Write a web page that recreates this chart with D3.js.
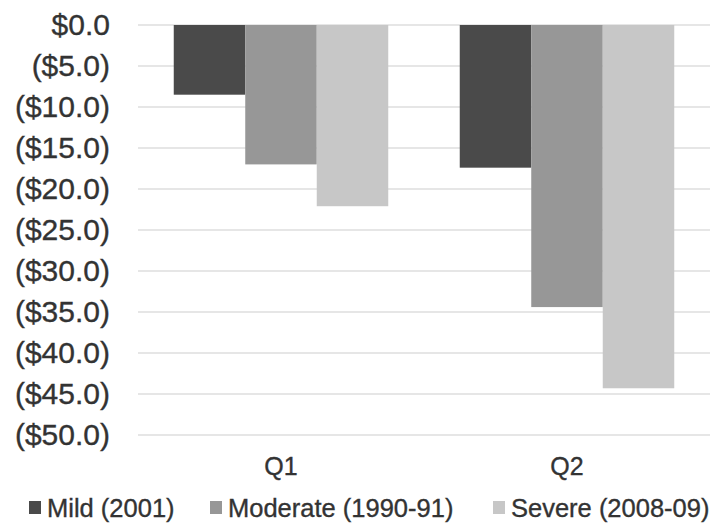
<!DOCTYPE html>
<html>
<head>
<meta charset="utf-8">
<style>
  body { margin: 0; background: #fff; }
  svg text { font-family: "Liberation Sans", Arial, sans-serif; fill: #333; stroke: #333; stroke-width: 0.35px; }
</style>
</head>
<body>
<svg width="714" height="523"></svg>
<script src="https://d3js.org/d3.v7.min.js"></script>
<script>
const categories = ["Q1", "Q2"];
const seriesNames = ["Mild (2001)", "Moderate (1990-91)", "Severe (2008-09)"];
const mild = [-8.5, -17.4];
const moderate = [-17.0, -34.4];
const severe = [-22.1, -44.3];
const yTicks = [0, -5, -10, -15, -20, -25, -30, -35, -40, -45, -50];
const colors = ["#4a4a4a", "#979797", "#c7c7c7"];

const series = [mild, moderate, severe];

const svg = d3.select("svg");
const margin = { top: 25, right: 4, bottom: 88, left: 138 };
const width = 714 - margin.left - margin.right;
const height = 523 - margin.top - margin.bottom;

const g = svg.append("g").attr("transform", `translate(${margin.left},${margin.top})`);

const x = d3.scaleBand().domain(categories).range([0, width]).paddingInner(0.25).paddingOuter(0.125);
const xs = d3.scaleBand().domain(seriesNames).range([0, x.bandwidth()]);
const y = d3.scaleLinear().domain([-50, 0]).range([height, 0]);

const fmt = v => v === 0 ? "$0.0" : `($${Math.abs(v).toFixed(1)})`;

// gridlines
g.append("g").selectAll("line").data(yTicks).enter()
  .append("line")
  .attr("x1", 0).attr("x2", width)
  .attr("y1", d => y(d)).attr("y2", d => y(d))
  .attr("stroke", "#dedede").attr("stroke-width", 1.5);

// y axis labels
const yAxis = g.append("g")
  .call(d3.axisLeft(y).tickValues(yTicks).tickFormat(fmt).tickSize(0).tickPadding(28));
yAxis.select(".domain").remove();
yAxis.selectAll("text").attr("font-size", 30).attr("fill", "#333");

// bars
const groups = g.append("g").selectAll("g").data(categories).enter()
  .append("g").attr("transform", d => `translate(${x(d)},0)`);

groups.selectAll("rect")
  .data((c, i) => seriesNames.map((s, k) => ({ s, k, v: series[k][i] })))
  .enter().append("rect")
  .attr("x", d => xs(d.s))
  .attr("width", xs.bandwidth())
  .attr("y", y(0))
  .attr("height", d => y(d.v) - y(0))
  .attr("fill", d => colors[d.k]);

// x axis labels
const xAxis = g.append("g").attr("transform", `translate(0,${height})`)
  .call(d3.axisBottom(x).tickSize(0).tickPadding(22));
xAxis.select(".domain").remove();
xAxis.selectAll("text").attr("font-size", 25).attr("fill", "#333");

// legend
const legendX = [29, 210, 493];
const legend = svg.append("g").selectAll("g").data(seriesNames).enter()
  .append("g").attr("transform", (d, i) => `translate(${legendX[i]},508)`);
legend.append("rect").attr("x", 0).attr("y", -7).attr("width", 12).attr("height", 13)
  .attr("fill", (d, i) => colors[i]).attr("stroke", "none");
legend.append("text").attr("x", 18).attr("y", 9).attr("font-size", 25.5).text(d => d);
</script>
</body>
</html>
